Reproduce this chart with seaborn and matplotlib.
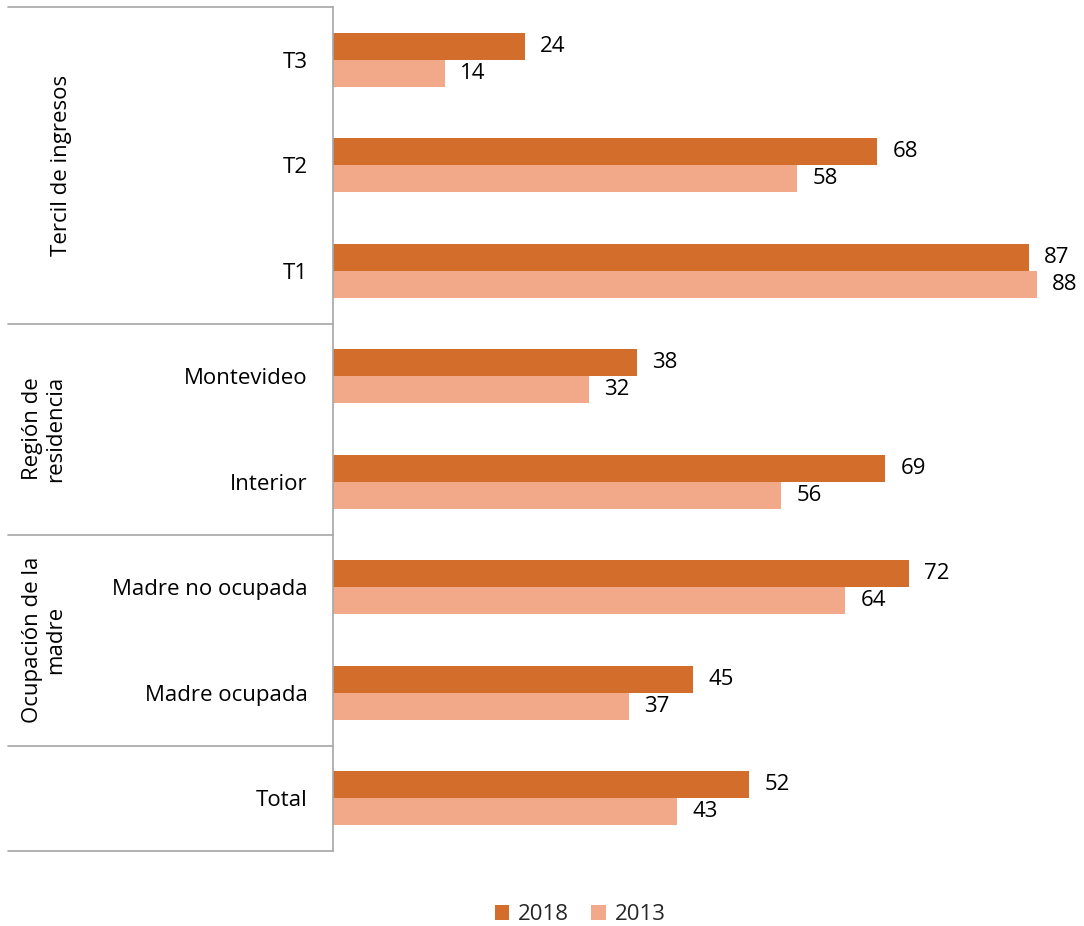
import matplotlib
matplotlib.use("Agg")
import matplotlib.pyplot as plt
import matplotlib.transforms as mtransforms
from matplotlib.lines import Line2D
from matplotlib.patches import Patch
import seaborn as sns
import pandas as pd

categories = ["T3", "T2", "T1", "Montevideo", "Interior",
              "Madre no ocupada", "Madre ocupada", "Total"]
values_2018 = [24, 68, 87, 38, 69, 72, 45, 52]
values_2013 = [14, 58, 88, 32, 56, 64, 37, 43]
years = ["2018", "2013"]
group_labels = ["Tercil de ingresos", "Región de\nresidencia", "Ocupación de la\nmadre"]
group_spans = [(0, 2), (3, 4), (5, 6)]

colors = {"2018": "#D36D2B", "2013": "#F2A98A"}
line_color = "#A6A6A6"
fs = 16

df = pd.DataFrame({
    "categoria": categories * 2,
    "valor": values_2018 + values_2013,
    "anio": ["2018"] * len(categories) + ["2013"] * len(categories),
})

sns.set_theme(style="white")
plt.rcParams["font.family"] = ["Open Sans", "DejaVu Sans"]

W, H = 1084, 926
fig = plt.figure(figsize=(W / 100, H / 100), dpi=100)
ax = fig.add_axes([333 / W, 1 - 851 / H, (W - 333) / W, (851 - 7) / H])

sns.barplot(data=df, y="categoria", x="valor", hue="anio", order=categories,
            hue_order=years, palette=colors, orient="h", width=0.51,
            saturation=1, linewidth=0, ax=ax, legend=False)

for container in ax.containers:
    ax.bar_label(container, fmt="%d", padding=11, fontsize=fs, color="#000000")

ax.set_xlim(0, (W - 333) / 8.0)
ax.set_ylim(len(categories) - 0.5, -0.5)
ax.set_xlabel("")
ax.set_ylabel("")
ax.set_xticks([])
ax.tick_params(axis="y", length=0, labelsize=fs, pad=18, colors="#000000")
for side in ["top", "right", "bottom"]:
    ax.spines[side].set_visible(False)
ax.spines["left"].set_color(line_color)
ax.spines["left"].set_linewidth(1.2)

# group separators on the left side
trans = mtransforms.blended_transform_factory(fig.transFigure, ax.transData)
for yb in [-0.5, 2.5, 4.5, 6.5, 7.5]:
    ax.add_line(Line2D([8 / W, 333 / W], [yb, yb], transform=trans,
                       color=line_color, linewidth=1.2, clip_on=False))

label_x = [62, 44, 44]
for (a, b), text, lx in zip(group_spans, group_labels, label_x):
    ax.text(lx / W, (a + b) / 2, text, transform=trans, rotation=90,
            ha="center", va="center", fontsize=fs, color="#000000",
            multialignment="center", linespacing=1.15)

handles = [Patch(facecolor=colors[y], edgecolor="none", label=y) for y in years]
fig.legend(handles=handles, loc="center", bbox_to_anchor=(580 / W, 1 - 915 / H),
           ncol=2, frameon=False, fontsize=fs, handlelength=0.65,
           handleheight=0.65, handletextpad=0.4, columnspacing=1.0)

fig.savefig("out.png", dpi=100, facecolor="white")
